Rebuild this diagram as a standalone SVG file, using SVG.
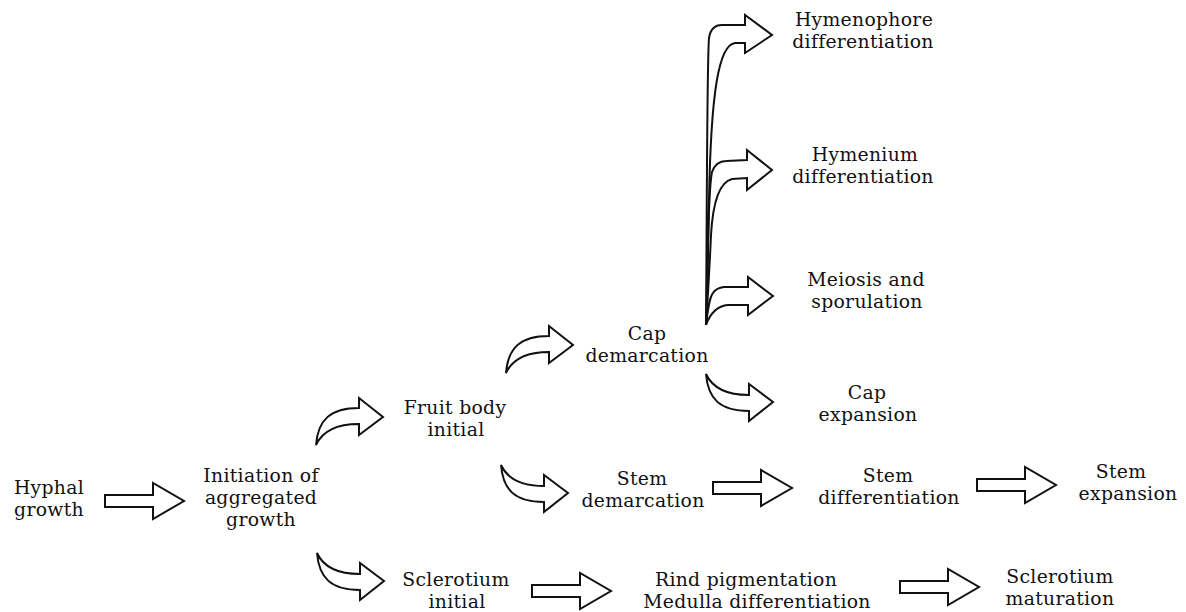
<svg xmlns="http://www.w3.org/2000/svg" width="1186" height="612" viewBox="0 0 1186 612">
<style>
text{font-family:"DejaVu Serif","Liberation Serif",serif;font-size:18.8px;fill:#111;text-anchor:middle;letter-spacing:0.3px}
.ar{fill:#fff;stroke:#111;stroke-width:2;stroke-linejoin:miter}
.br{fill:none;stroke:#111;stroke-width:2;stroke-linejoin:miter}
</style>
<defs>
<path id="straight" d="M0,-6 H48 V-18 L79,0 L48,18 V6 H0 Z"/>
<path id="curveUp" d="M0,0 C2,-25 14,-37 43,-37 L43,-47 L67,-28 L43,-10 L43,-21 C19,-21 6,-13 0,0 Z"/>
</defs>
<rect width="1186" height="612" fill="#fff"/>
<g id="connectors">
<use href="#straight" class="ar" transform="translate(105,501)"/>
<use href="#straight" class="ar" transform="translate(713,488)"/>
<use href="#straight" class="ar" transform="translate(977,485)"/>
<use href="#straight" class="ar" transform="translate(532,591)"/>
<use href="#straight" class="ar" transform="translate(900,587)"/>
<use href="#curveUp" class="ar" transform="translate(316,445)"/>
<use href="#curveUp" class="ar" transform="translate(506,373)"/>
<use href="#curveUp" class="ar" transform="translate(501,465) scale(1,-1)"/>
<use href="#curveUp" class="ar" transform="translate(317,553) scale(1,-1)"/>
<use href="#curveUp" class="ar" transform="translate(706,374) scale(1,-1)"/>
<path class="br" d="M706,325 C707,200 707,60 709,38 Q711,25 722,25 L745,25 L745,15 L772,35 L745,53 L745,43 L735,43 C719,45 711,90 709,200 C708,260 707,300 706,325 Z"/>
<path class="br" d="M706,325 C708,250 708,190 712,172 Q716,161 726,161 L747,160 L747,150 L772,170 L747,190 L747,178 L732,179 C720,182 713,200 711,235 C709,280 707,310 706,325 Z"/>
<path class="br" d="M706,325 C708,310 709,298 713,293 Q716,288 724,287 L748,287 L748,277 L773,296 L748,315 L748,305 L728,305 C716,306 710,314 706,325 Z"/>
</g>
<g id="hyphal"><text><tspan x="49" y="494">Hyphal</tspan><tspan x="49" y="516">growth</tspan></text></g>
<g id="initiation"><text><tspan x="261" y="482">Initiation of</tspan><tspan x="261" y="504">aggregated</tspan><tspan x="261" y="526">growth</tspan></text></g>
<g id="fruitbody"><text><tspan x="455" y="414">Fruit body</tspan><tspan x="456" y="436">initial</tspan></text></g>
<g id="sclerotium-initial"><text><tspan x="456" y="586">Sclerotium</tspan><tspan x="457" y="608">initial</tspan></text></g>
<g id="cap-demarcation"><text><tspan x="647" y="340">Cap</tspan><tspan x="647" y="362">demarcation</tspan></text></g>
<g id="stem-demarcation"><text><tspan x="642" y="485">Stem</tspan><tspan x="643" y="507">demarcation</tspan></text></g>
<g id="rind"><text><tspan x="746" y="586">Rind pigmentation</tspan><tspan x="757" y="608">Medulla differentiation</tspan></text></g>
<g id="hymenophore"><text><tspan x="864" y="26">Hymenophore</tspan><tspan x="863" y="48">differentiation</tspan></text></g>
<g id="hymenium"><text><tspan x="865" y="161">Hymenium</tspan><tspan x="863" y="183">differentiation</tspan></text></g>
<g id="meiosis"><text><tspan x="866" y="286">Meiosis and</tspan><tspan x="867" y="308">sporulation</tspan></text></g>
<g id="cap-expansion"><text><tspan x="867" y="399">Cap</tspan><tspan x="868" y="421">expansion</tspan></text></g>
<g id="stem-differentiation"><text><tspan x="888" y="482">Stem</tspan><tspan x="889" y="504">differentiation</tspan></text></g>
<g id="stem-expansion"><text><tspan x="1121" y="478">Stem</tspan><tspan x="1128" y="500">expansion</tspan></text></g>
<g id="sclerotium-maturation"><text><tspan x="1060" y="583">Sclerotium</tspan><tspan x="1060" y="605">maturation</tspan></text></g>
</svg>
